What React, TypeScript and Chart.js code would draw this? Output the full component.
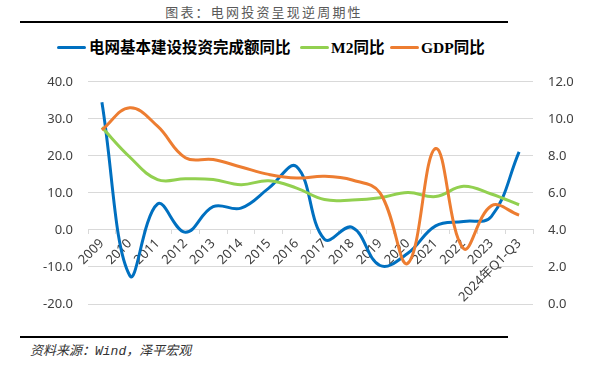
import React, { useEffect, useRef } from "react";
import { Chart, registerables } from "chart.js";

Chart.register(...registerables);

const categories = [
  "2009", "2010", "2011", "2012", "2013", "2014", "2015", "2016",
  "2017", "2018", "2019", "2020", "2021", "2022", "2023", "2024年Q1-Q3",
];
const gridInvestYoY = [34.5, -12.3, 7.0, -0.6, 6.3, 5.9, 11.3, 17.1, -2.5, 0.7, -9.6, -6.3, 1.1, 2.3, 3.6, 21.1];
const m2YoY = [27.7, 19.7, 13.6, 13.8, 13.6, 12.2, 13.3, 11.3, 8.2, 8.1, 8.7, 10.1, 9.0, 11.8, 9.7, 6.8];
const gdpYoY = [9.4, 10.6, 9.6, 7.9, 7.8, 7.4, 7.0, 6.8, 6.9, 6.7, 6.0, 2.2, 8.4, 3.0, 5.3, 4.8];

const seriesNames = ["电网基本建设投资完成额同比", "M2同比", "GDP同比"];
const seriesColors = ["#0070C0", "#92D050", "#ED7D31"];

const leftMin = -20, leftMax = 40, leftStep = 10;
const rightMin = 0, rightMax = 12, rightStep = 2;

const tickFont = { family: '"Noto Sans", "Noto Sans CJK SC", sans-serif', size: 13 };
const tickColor = "#404040";

export default function App() {
  const ref = useRef<HTMLCanvasElement>(null);
  useEffect(() => {
    if (!ref.current) return;
    const chart = new Chart(ref.current, {
      type: "line",
      data: {
        labels: categories,
        datasets: [
          {
            label: seriesNames[0], data: gridInvestYoY, yAxisID: "y",
            borderColor: seriesColors[0], backgroundColor: seriesColors[0],
            borderWidth: 3, pointRadius: 0, tension: 0.4, order: 2,
          },
          {
            label: seriesNames[1], data: m2YoY, yAxisID: "y",
            borderColor: seriesColors[1], backgroundColor: seriesColors[1],
            borderWidth: 3, pointRadius: 0, tension: 0.4, order: 1,
          },
          {
            label: seriesNames[2], data: gdpYoY, yAxisID: "y1",
            borderColor: seriesColors[2], backgroundColor: seriesColors[2],
            borderWidth: 3, pointRadius: 0, tension: 0.4, order: 0,
          },
        ],
      },
      options: {
        responsive: false,
        animation: false,
        devicePixelRatio: 1,
        layout: { padding: { top: 21, bottom: 23, left: 0, right: 0 } },
        plugins: { legend: { display: false }, tooltip: { enabled: false } },
        scales: {
          x: {
            type: "category",
            position: { y: 0 } as any,
            offset: true,
            grid: {
              offset: true, drawOnChartArea: false, drawTicks: true,
              tickLength: 4, color: "#d9d9d9",
            },
            border: { display: true, color: "#d9d9d9", width: 1 },
            ticks: {
              autoSkip: false, maxRotation: 45, minRotation: 45,
              padding: 2, font: tickFont, color: tickColor,
            },
          },
          y: {
            position: "left",
            min: leftMin, max: leftMax,
            grid: { color: "#d9d9d9", drawTicks: false, lineWidth: 1 },
            border: { display: false },
            ticks: {
              stepSize: leftStep, padding: 15, font: tickFont, color: tickColor,
              callback: (v: any) => Number(v).toFixed(1),
            },
            afterFit: (s: any) => { s.width = 88; },
          },
          y1: {
            position: "right",
            min: rightMin, max: rightMax,
            grid: { display: false, drawTicks: false },
            border: { display: false },
            ticks: {
              stepSize: rightStep, padding: 15, font: tickFont, color: tickColor,
              callback: (v: any) => Number(v).toFixed(1),
            },
            afterFit: (s: any) => { s.width = 65; },
          },
        },
      },
    });
    return () => chart.destroy();
  }, []);

  const legendItems = [
    { line: 57, text: 89 },
    { line: 300, text: 331 },
    { line: 390, text: 421 },
  ];

  return (
    <div style={{ position: "absolute", left: 0, top: 0, width: 598, height: 382, background: "#fff", overflow: "hidden" }}>
      <div style={{
        position: "absolute", left: 20, width: 488, top: 3, textAlign: "center",
        fontFamily: '"Noto Sans CJK SC", sans-serif', fontSize: 13, letterSpacing: 2.2,
        color: "#595959", lineHeight: "18px",
      }}>图表：电网投资呈现逆周期性</div>
      <div style={{ position: "absolute", left: 20, width: 488, top: 21, height: 2, background: "#000" }} />
      {legendItems.map((it, i) => (
        <React.Fragment key={i}>
          <div style={{ position: "absolute", left: it.line, top: 46, width: 29, height: 3, background: seriesColors[i], borderRadius: 1.5 }} />
          <div style={{
            position: "absolute", left: it.text, top: 38, lineHeight: "20px", whiteSpace: "nowrap",
            fontFamily: '"Liberation Serif", "Noto Sans CJK SC", serif', fontWeight: "bold", fontSize: 15.5, color: "#000",
          }}>{seriesNames[i]}</div>
        </React.Fragment>
      ))}
      <canvas ref={ref} width={598} height={268} style={{ position: "absolute", left: 0, top: 59, width: 598, height: 268 }} />
      <div style={{ position: "absolute", left: 20, width: 488, top: 336, height: 2, background: "#000" }} />
      <div style={{
        position: "absolute", left: 30, top: 343, lineHeight: "18px", whiteSpace: "nowrap",
        fontFamily: '"Liberation Mono", "Noto Sans CJK SC", monospace', fontStyle: "italic", fontSize: 13, color: "#333",
      }}>资料来源：Wind，泽平宏观</div>
    </div>
  );
}
